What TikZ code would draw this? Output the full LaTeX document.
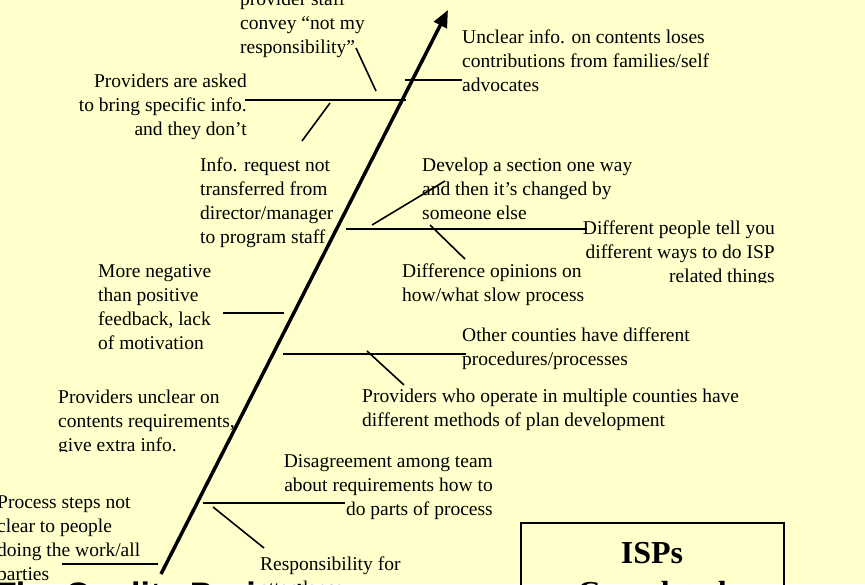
\documentclass[tikz,border=0pt]{standalone}
\usepackage{fontspec}
\setmainfont{Liberation Serif}
\newfontfamily\titlesans{Liberation Sans}
\usetikzlibrary{arrows.meta}
\definecolor{bgyellow}{HTML}{FFFFCC}
\newcommand{\lblock}[1]{\begin{tabular}[t]{@{}l@{}}#1\end{tabular}}
\newcommand{\rblock}[1]{\begin{tabular}[t]{@{}r@{}}#1\end{tabular}}
\newcommand{\cblock}[1]{\begin{tabular}[t]{@{}c@{}}#1\end{tabular}}
\begin{document}
\begin{tikzpicture}[x=1pt,y=-1pt,
  lbl/.style={inner sep=0pt, font=\fontsize{19.5}{24}\selectfont},
  bone/.style={line width=2pt},
  subbone/.style={line width=1.6pt},
  spine/.style={line width=3.5pt, -{Triangle[length=17pt,width=14pt]}}
]
\useasboundingbox (0,0) rectangle (865,584);
\fill[bgyellow] (0,0) rectangle (865,584);
\clip (0,0) rectangle (865,584);

% spine
\coordinate (tail) at (161,574);
\coordinate (head) at (448,10);
\draw[spine] (tail) -- (head);

% bones
\coordinate (b1a) at (245,100); \coordinate (b1b) at (406,100);
\coordinate (b2a) at (405,80);  \coordinate (b2b) at (462,80);
\coordinate (s1a) at (356,48);  \coordinate (s1b) at (376,91);
\coordinate (s2a) at (330,103); \coordinate (s2b) at (302,141);
\coordinate (b3a) at (346,229); \coordinate (b3b) at (587,229);
\coordinate (s3a) at (372,225); \coordinate (s3b) at (445,181);
\coordinate (s4a) at (430,225); \coordinate (s4b) at (465,259);
\coordinate (b4a) at (223,313); \coordinate (b4b) at (284,313);
\coordinate (b5a) at (283,354); \coordinate (b5b) at (466,354);
\coordinate (s5a) at (367,351); \coordinate (s5b) at (404,385);
\coordinate (b6a) at (203,503); \coordinate (b6b) at (345,503);
\coordinate (s6a) at (213,507); \coordinate (s6b) at (264,548);
\coordinate (b7a) at (62,564);  \coordinate (b7b) at (158,564);

\draw[bone] (b1a) -- (b1b);
\draw[bone] (b2a) -- (b2b);
\draw[bone] (b3a) -- (b3b);
\draw[bone] (b4a) -- (b4b);
\draw[bone] (b5a) -- (b5b);
\draw[bone] (b6a) -- (b6b);
\draw[bone] (b7a) -- (b7b);
\draw[subbone] (s1a) -- (s1b);
\draw[subbone] (s2a) -- (s2b);
\draw[subbone] (s3a) -- (s3b);
\draw[subbone] (s4a) -- (s4b);
\draw[subbone] (s5a) -- (s5b);
\draw[subbone] (s6a) -- (s6b);

% labels
\node[lbl, anchor=base west] (t1) at (240,5) {\lblock{provider staff\\convey “not my\\responsibility”}};
\node[lbl, anchor=base east] (t2) at (247,87) {\rblock{Providers are asked\\to bring specific info.\\and they don’t}};
\node[lbl, anchor=base west] (t3) at (462,43) {\lblock{Unclear info. on contents loses\\contributions from families/self\\advocates}};
\node[lbl, anchor=base west] (t4) at (200,171) {\lblock{Info. request not\\transferred from\\director/manager\\to program staff}};
\node[lbl, anchor=base west] (t5) at (422,171) {\lblock{Develop a section one way\\and then it’s changed by\\someone else}};
\begin{scope}
\clip (560,200) rectangle (820,282);
\node[lbl, anchor=base east] (t6) at (775,234) {\rblock{Different people tell you\\different ways to do ISP\\related things}};
\end{scope}
\node[lbl, anchor=base west] (t7) at (402,277) {\lblock{Difference opinions on\\how/what slow process}};
\node[lbl, anchor=base west] (t8) at (98,277) {\lblock{More negative\\than positive\\feedback, lack\\of motivation}};
\node[lbl, anchor=base west] (t9) at (462,341) {\lblock{Other counties have different\\procedures/processes}};
\node[lbl, anchor=base west] (t10) at (362,402) {\lblock{Providers who operate in multiple counties have\\different methods of plan development}};
\begin{scope}
\clip (40,380) rectangle (260,451);
\node[lbl, anchor=base west] (t11) at (58,403) {\lblock{Providers unclear on\\contents requirements,\\give extra info.}};
\end{scope}
\node[lbl, anchor=base east] (t12) at (493,467) {\rblock{Disagreement among team\\about requirements how to\\do parts of process}};
\node[lbl, anchor=base west] (t13) at (-3,508) {\lblock{Process steps not\\clear to people\\doing the work/all\\parties}};
\node[lbl, anchor=base west] (t14) at (260,570) {\lblock{Responsibility for\\attendance}};

% effect box
\draw[line width=1.8pt] (521,523) rectangle (784,720);
\node[inner sep=0pt, anchor=base, font=\bfseries\fontsize{32}{40}\selectfont] (isps) at (652,563) {\cblock{ISPs\\Completed}};

% title
\node[inner sep=0pt, anchor=base west, font=\titlesans\bfseries\fontsize{34}{40}\selectfont] (title) at (-5,606) {The Quality Project};
\end{tikzpicture}
\end{document}
